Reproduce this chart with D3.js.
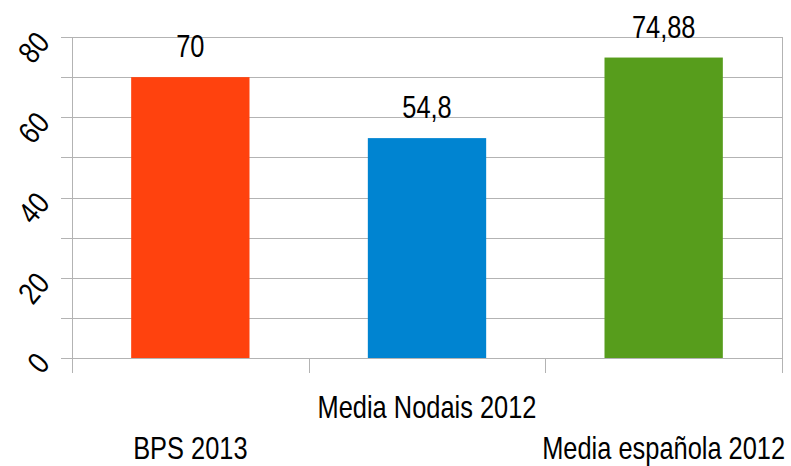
<!DOCTYPE html>
<html><head><meta charset="utf-8">
<script src="https://cdn.jsdelivr.net/npm/d3@7"></script>
<style>
html,body{margin:0;padding:0;background:#fff;}
text{font-family:"Liberation Sans",Arial,sans-serif;fill:#000;}
</style></head>
<body><svg id="c" width="791" height="466"></svg>
<script>
const categories = ["BPS 2013", "Media Nodais 2012", "Media española 2012"];
const values = [70, 54.8, 74.88];
const valueLabels = ["70", "54,8", "74,88"];
const colors = ["#ff420e", "#0084d1", "#579d1c"];
const yTicks = [0, 20, 40, 60, 80];
const gridValues = [0, 10, 20, 30, 40, 50, 60, 70, 80];

const svg = d3.select("#c");
const pL = 72, pR = 782, pT = 37, pB = 358;
const narrow = 0.82;
const x = d3.scaleBand().domain(categories).range([pL, pR]).paddingInner(0.5).paddingOuter(0.25);
const xb = d3.scaleBand().domain(categories).range([pL, pR]);
const y = d3.scaleLinear().domain([0, 80]).range([pB, pT]);
const grid = "#b3b3b3";

// gridlines
svg.append("g").selectAll("line").data(gridValues).join("line")
  .attr("x1", pL - 11).attr("x2", pR)
  .attr("y1", d => Math.round(y(d)) + 0.5).attr("y2", d => Math.round(y(d)) + 0.5)
  .attr("stroke", grid).attr("stroke-width", 1);

// vertical axis line
svg.append("line").attr("x1", pL + 0.5).attr("x2", pL + 0.5).attr("y1", pT).attr("y2", pB + 15)
  .attr("stroke", grid);
// category separators & right border
const seps = categories.map(c => xb(c)).slice(1).concat([pR]);
svg.append("g").selectAll("line").data(seps).join("line")
  .attr("x1", d => Math.round(d) + 0.5).attr("x2", d => Math.round(d) + 0.5)
  .attr("y1", (d, i) => i === seps.length - 1 ? pT : pB).attr("y2", pB + 15)
  .attr("stroke", grid);

// bars
svg.append("g").selectAll("rect").data(values).join("rect")
  .attr("x", (d, i) => x(categories[i]))
  .attr("width", x.bandwidth())
  .attr("y", d => y(d))
  .attr("height", d => y(0) - y(d))
  .attr("fill", (d, i) => colors[i]);

// value labels
svg.append("g").selectAll("text").data(values).join("text")
  .attr("transform", (d, i) => `translate(${x(categories[i]) + x.bandwidth() / 2},${y(d) - 20}) scale(${narrow},1)`)
  .attr("text-anchor", "middle").attr("font-size", 31)
  .text((d, i) => valueLabels[i]);

// x labels
svg.append("g").selectAll("text").data(categories).join("text")
  .attr("transform", (d, i) => `translate(${x(d) + x.bandwidth() / 2},${i % 2 === 1 ? 418 : 459}) scale(${narrow},1)`)
  .attr("text-anchor", "middle").attr("font-size", 31)
  .text(d => d);

// y tick labels (rotated)
svg.append("g").selectAll("text").data(yTicks).join("text")
  .attr("transform", d => `translate(51,${y(d) + 6.5}) rotate(-50) scale(${narrow},1)`)
  .attr("text-anchor", "end").attr("font-size", 31)
  .text(d => d);
</script></body></html>
